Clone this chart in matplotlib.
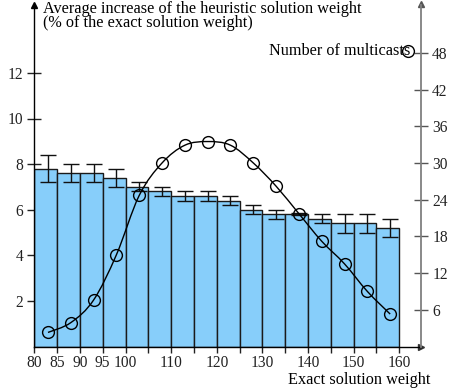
import matplotlib
matplotlib.use("Agg")
import matplotlib.pyplot as plt
import numpy as np
from matplotlib.path import Path
from matplotlib.patches import PathPatch

plt.rcParams["font.family"] = ["Liberation Serif", "DejaVu Serif"]
plt.rcParams["font.size"] = 11.7

# bars: average increase (%) per exact-weight bin of width 5
bin_left = [80, 85, 90, 95, 100, 105, 110, 115, 120, 125, 130, 135, 140, 145, 150, 155]
avg_increase = [7.8, 7.6, 7.6, 7.4, 7.0, 6.8, 6.6, 6.6, 6.4, 6.0, 5.8, 5.8, 5.6, 5.4, 5.4, 5.2]
increase_err = [0.6, 0.4, 0.4, 0.4, 0.2, 0.2, 0.2, 0.2, 0.2, 0.2, 0.2, 0.05, 0.2, 0.4, 0.4, 0.4]

# line: number of multicasts
mc_x = [83, 88, 93, 98, 103, 108, 113, 118, 123, 128, 133, 138, 143, 148, 153, 158]
mc_count = [2.3, 3.9, 7.6, 15.0, 24.7, 30.0, 32.9, 33.5, 32.9, 30.0, 26.2, 21.7, 17.2, 13.5, 9.0, 5.3]

x_ticks = list(range(80, 165, 5))
x_labels = ["80", "85", "90", "95", "100", "", "110", "", "120", "", "130", "", "140", "", "150", "", "160"]
left_ticks = [2, 4, 6, 8, 10, 12]
right_ticks = [6, 12, 18, 24, 30, 36, 42, 48]

fig = plt.figure(figsize=(4.5, 3.91), dpi=100)
ax = fig.add_axes([34.3 / 450, 1 - 346.5 / 391, (421 - 34.3) / 450, 342 / 391])
ax2 = ax.twinx()

ax.bar(bin_left, avg_increase, width=5, align="edge", color="#87CEFA",
       edgecolor="#1a1a1a", linewidth=1.0, zorder=2)
ax.errorbar(mc_x, avg_increase, yerr=increase_err, fmt="none", ecolor="#111111",
            elinewidth=1.0, capsize=6, capthick=1.0, zorder=3)

ax.set_xlim(80, 80 + (421 - 34.3) / 4.5625)
ax.set_ylim(0, 15)
ax2.set_ylim(0, 55.9)

# smooth curve through the multicast points (Catmull-Rom as cubic Bezier)
pts = np.column_stack([mc_x, mc_count]).astype(float)
verts = [tuple(pts[0])]
codes = [Path.MOVETO]
for i in range(len(pts) - 1):
    p0 = pts[i - 1] if i > 0 else pts[i]
    p1 = pts[i]
    p2 = pts[i + 1]
    p3 = pts[i + 2] if i + 2 < len(pts) else pts[i + 1]
    c1 = p1 + (p2 - p0) / 6.0
    c2 = p2 - (p3 - p1) / 6.0
    verts += [tuple(c1), tuple(c2), tuple(p2)]
    codes += [Path.CURVE4] * 3
ax2.add_patch(PathPatch(Path(verts, codes), facecolor="none", edgecolor="black",
                        linewidth=1.0, zorder=4))
ax2.plot(mc_x, mc_count, linestyle="none", marker="o", markersize=8.5,
         markerfacecolor="none", markeredgecolor="black", markeredgewidth=1.0, zorder=5)

# legend entry drawn by hand
ax2.plot([0.9656], [0.864], transform=ax2.transAxes, marker="o", markersize=8.5,
         markerfacecolor="none", markeredgecolor="black", markeredgewidth=1.0, clip_on=False)
ax2.text(0.9716, 0.864, "Number of multicasts", transform=ax2.transAxes,
         ha="right", va="center")

# spines
for a in (ax, ax2):
    a.spines["top"].set_visible(False)
ax.spines["right"].set_visible(False)
ax2.spines["left"].set_visible(False)
ax2.spines["bottom"].set_visible(False)
ax2.spines["right"].set_color("#808080")
ax2.spines["right"].set_linewidth(1.3)
ax.spines["left"].set_linewidth(1.0)
ax.spines["bottom"].set_linewidth(1.0)

# arrow heads
ax.plot(0, 1, marker="^", color="black", markersize=4, transform=ax.transAxes, clip_on=False)
ax.plot(1, 0, marker=">", color="#333333", markersize=4, transform=ax.transAxes, clip_on=False)
ax2.plot(1, 1, marker="^", color="#555555", markersize=4, transform=ax2.transAxes, clip_on=False)

ax.set_xticks(x_ticks)
ax.set_xticklabels(x_labels)
ax.set_yticks(left_ticks)
ax2.set_yticks(right_ticks)
ax.tick_params(axis="x", direction="out", length=4, width=1.0, pad=2, colors="#222222",
               labelsize=11.2)
ax.tick_params(axis="y", direction="inout", length=10, width=1.0, pad=3, colors="#222222",
               labelsize=11.2)
ax2.tick_params(axis="y", direction="inout", length=10, width=1.0, pad=3,
                colors="#555555", labelcolor="#222222", labelsize=11.2)

fig.text(43 / 450, 1 - 1 / 391,
         "Average increase of the heuristic solution weight\n(% of the exact solution weight)",
         ha="left", va="top", linespacing=0.8)
fig.text(430 / 450, 1 - 380 / 391, "Exact solution weight", ha="right", va="center")

fig.savefig("out.png", dpi=100)
